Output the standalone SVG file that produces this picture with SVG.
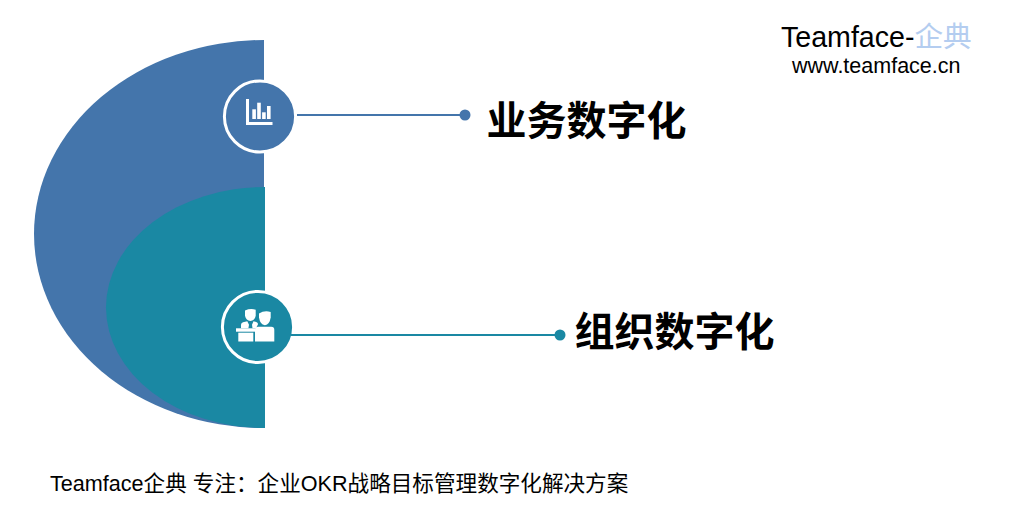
<svg xmlns="http://www.w3.org/2000/svg" width="1009" height="525" viewBox="0 0 1009 525">
<style>
.cjk{font-family:"Liberation Sans","Noto Sans CJK SC",sans-serif}
.head{font-size:40px;font-weight:700;fill:#000}
.ring{stroke:#fff;stroke-width:3}
.blue{fill:#4475AB}
.teal{fill:#1A88A3}
.ic{fill:#fff}
.ln{fill:none;stroke-width:2}
</style>
<rect width="1009" height="525" fill="#fff"/>
<g id="shapes">
<path class="blue" d="M264 40A230 194 0 0 0 264 428Z"/>
<path class="teal" d="M265 187A159 120.500 0 0 0 265 428Z"/>
</g>
<g id="node-business">
<circle class="blue ring" cx="260" cy="116.500" r="35.600"/>
<path class="ic" d="M246 99h3v23h23.500v3h-26.500z"/>
<rect class="ic" x="252.300" y="109.300" width="3.600" height="9.700"/>
<rect class="ic" x="257.200" y="102.700" width="3.600" height="16.300"/>
<rect class="ic" x="262.100" y="112.300" width="3.600" height="6.700"/>
<rect class="ic" x="267" y="106" width="3.600" height="13"/>
<text class="cjk head" x="486.500" y="135">业务数字化</text>
</g>
<g id="node-org">
<circle class="teal ring" cx="258" cy="327" r="35.600"/>
<path class="ic" d="M245 310.500q5.500-2.500 10.700-.8v6q-1 4.800-5.300 5.300q-4.300-.5-5.400-5.300z"/>
<path class="ic" d="M241 328.300v-3.600q0-2 2-2.500l4.300-1 1.700 3.500-.6 3.600zM252.500 328.300l-.5-3.600 1.500-3.500 3.200 1q1.300.5 1.300 2l-2 4.100z"/>
<path class="ic" d="M259 313.500q5.500-3.500 11.700-1.500v5.500q-1 6.800-5.800 7.800q-4.900-1-5.900-7.800z"/>
<rect class="ic" x="236" y="328.300" width="19.500" height="3.400"/>
<rect class="ic" x="238.300" y="332.700" width="15" height="8.800"/>
<path class="ic" d="M255 341.500v-11.800q0-3 3-3h13.300q3 0 3 3v11.800z"/>
<text class="cjk head" x="574.500" y="346">组织数字化</text>
</g>
<g id="connectors">
<path class="ln" stroke="#4475AB" d="M297 115H465"/>
<circle class="blue" cx="465" cy="115" r="5.500"/>
<path class="ln" stroke="#1A88A3" d="M291 335H560"/>
<circle class="teal" cx="560" cy="335" r="5.500"/>
</g>
<g id="brand">
<text class="cjk" x="781" y="47" font-size="28.600" fill="#000">Teamface-<tspan fill="#B4CDF0">企典</tspan></text>
<text class="cjk" x="792" y="73" font-size="21.500" fill="#000">www.teamface.cn</text>
</g>
<g id="footer">
<text class="cjk" x="50" y="490.500" font-size="21.600" fill="#000">Teamface企典 专注：企业OKR战略目标管理数字化解决方案</text>
</g>
</svg>
